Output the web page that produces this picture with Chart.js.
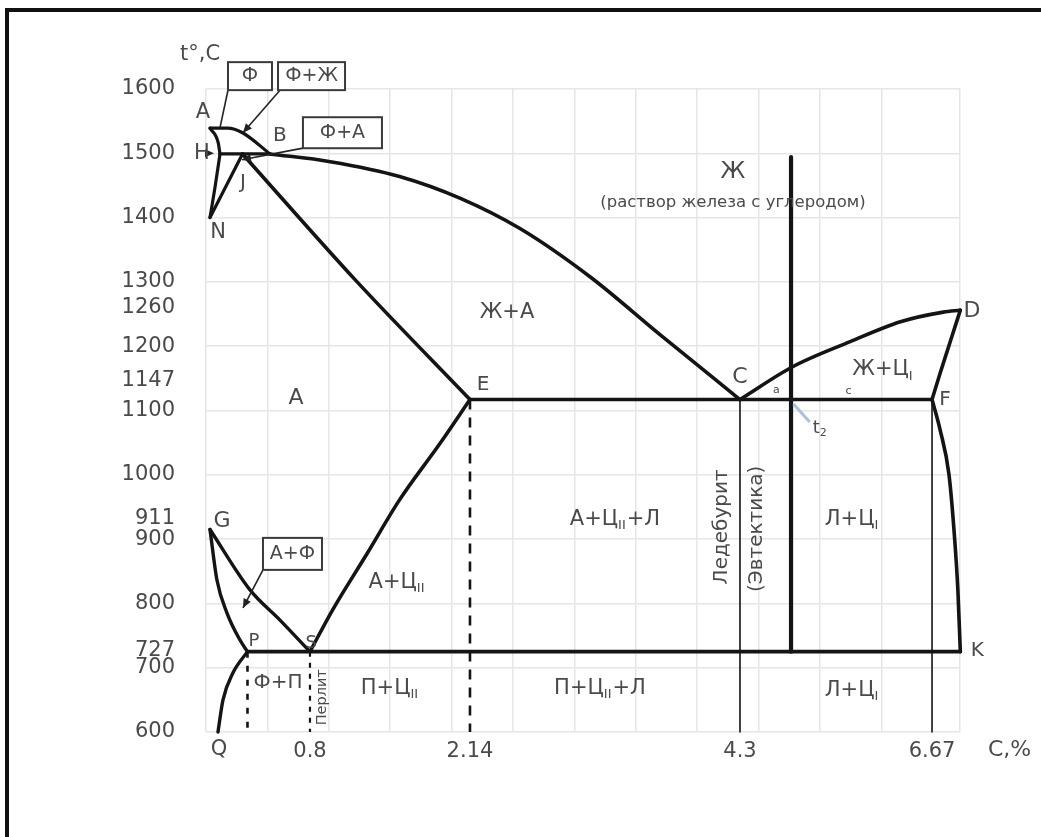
<!DOCTYPE html>
<html><head><meta charset="utf-8">
<script src="https://cdn.jsdelivr.net/npm/chart.js@4.4.1/dist/chart.umd.min.js"></script>
<style>
html,body{margin:0;padding:0;background:#fff;overflow:hidden}
#wrap{position:relative;width:1041px;height:837px;overflow:hidden}
canvas{position:absolute;left:0;top:0}
#frame{position:absolute;left:5px;top:8px;width:1100px;height:900px;border-top:4px solid #111;border-left:4px solid #111;pointer-events:none}
</style></head><body>
<div id="wrap"><canvas id="c" width="1041" height="837"></canvas><div id="frame"></div></div>
<script>
// ---------- axis ticks ----------
const X_TICKS = [0.8, 2.14, 4.3, 6.67];
const X_TICK_LABELS = ['0.8', '2.14', '4.3', '6.67'];
const Y_TICKS = [1600, 1500, 1400, 1300, 1260, 1200, 1147, 1100, 1000, 911, 900, 800, 727, 700, 600];
const Y_TICK_LABELS = ['1600', '1500', '1400', '1300', '1260', '1200', '1147', '1100', '1000', ['911', ''], '900', '800', '727', '700', '600'];

// ---------- phase boundary lines [C %, t °C] ----------
const lineAB = [[0,1539],[0.14,1539],[0.26,1532],[0.48,1499]];
const lineAH = [[0,1539],[0.065,1517],[0.08,1499]];
const lineHN = [[0.08,1499],[0.04,1447],[0,1400]];
const lineNJ = [[0,1400],[0.26,1499]];
const lineHB = [[0.08,1499],[0.48,1499]];
const lineBC = [[0.48,1499],[0.97,1487],[1.55,1464],[2.06,1430],[2.54,1383],[3.10,1308],[3.66,1218],[4.3,1117]];
const lineJE = [[0.26,1499],[1.185,1302],[2.14,1117]];
const lineECF = [[2.14,1117],[6.67,1117]];
const lineCD = [[4.3,1117],[4.95,1168],[5.66,1207],[6.28,1238],[6.81,1253],[7.02,1256]];
const lineDF = [[7.02,1256],[6.89,1205],[6.77,1158],[6.67,1117]];
const lineFK = [[6.67,1117],[6.77,1070],[6.88,1000],[6.95,900],[6.99,820],[7.02,725]];
const lineGS = [[0,915],[0.32,821],[0.56,774],[0.8,725]];
const lineGP = [[0,915],[0.056,836],[0.136,785],[0.24,743],[0.3,725]];
const linePQ = [[0.3,725],[0.184,692],[0.104,650],[0.064,600]];
const lineSE = [[0.8,725],[0.99,790],[1.28,878],[1.55,961],[1.89,1049],[2.14,1117]];
const linePSK = [[0.3,725],[7.02,725]];
const vert43 = [[4.3,1117],[4.3,600]];
const vert667 = [[6.67,1117],[6.67,600]];
const vert214 = [[2.14,1117],[2.14,600]];
const vertP = [[0.3,725],[0.3,600]];
const vertS = [[0.8,725],[0.8,600]];
const alloyLine = [[4.93,1494],[4.93,725]];

// x-axis piecewise mapping (value -> fraction of plot width)
const X_MIN = -0.032, X_MAX = 7.016;
const X_BREAKS = [[-0.032,0],[0,0.0053],[0.8,0.1379],[2.14,0.3501],[4.3,0.7082],[6.67,0.9629],[7.016,1]];

const FONT = '"DejaVu Sans", sans-serif';
const INK = '#141414';
const TXT = '#4a4a4a';
const GRID = '#e6e6e6';

class PiecewiseScale extends Chart.LinearScale {
  _frac(v) {
    const b = X_BREAKS;
    for (let i = 1; i < b.length; i++) {
      if (v <= b[i][0] || i === b.length - 1) {
        const [v0, f0] = b[i-1], [v1, f1] = b[i];
        return f0 + (v - v0) * (f1 - f0) / (v1 - v0);
      }
    }
  }
  getPixelForValue(v) { return v === null ? NaN : this.getPixelForDecimal(this._frac(v)); }
  getValueForPixel(p) {
    const f = this.getDecimalForPixel(p), b = X_BREAKS;
    for (let i = 1; i < b.length; i++) {
      if (f <= b[i][1] || i === b.length - 1) {
        const [v0, f0] = b[i-1], [v1, f1] = b[i];
        return v0 + (f - f0) * (v1 - v0) / (f1 - f0);
      }
    }
  }
}
PiecewiseScale.id = 'piecewise';
PiecewiseScale.defaults = Chart.LinearScale.defaults;
Chart.register(PiecewiseScale);

const CURVES = [
  {d: vert43, w: 1.6},
  {d: vert667, w: 1.6},
  {d: vert214, w: 2.6, dash: [10, 8]},
  {d: vertP, w: 2.6, dash: [6, 8]},
  {d: vertS, w: 2.2, dash: [5, 6]},
  {d: lineAB, w: 3.2, m: true},
  {d: lineAH, w: 3.2, m: true},
  {d: lineHN, w: 3.2, m: true},
  {d: lineNJ, w: 3.2},
  {d: lineHB, w: 3.2},
  {d: lineBC, w: 3.6, m: true},
  {d: lineJE, w: 3.6, m: true},
  {d: lineECF, w: 3.6},
  {d: lineCD, w: 3.6, m: true},
  {d: lineDF, w: 3.6, m: true},
  {d: lineFK, w: 3.6, m: true},
  {d: lineGS, w: 3.4, m: true},
  {d: lineGP, w: 3.4, m: true},
  {d: linePQ, w: 3.4, m: true},
  {d: lineSE, w: 3.6, m: true},
  {d: linePSK, w: 3.6},
  {d: alloyLine, w: 4.2}
];

// ---------- annotations (positions in data units) ----------
const LABELS = [
  {p: [-0.08, 1653], parts: [['t°,C', 0]], size: 21},
  {p: [-0.056, 1564], parts: [['A', 0]], size: 21},
  {p: [0.56, 1527], parts: [['B', 0]], size: 20},
  {p: [-0.064, 1499], parts: [['H', 0]], size: 21},
  {p: [0.264, 1454], parts: [['J', 0]], size: 20},
  {p: [0.064, 1376], parts: [['N', 0]], size: 21},
  {p: [4.244, 1471], parts: [['Ж', 0]], size: 23},
  {p: [4.244, 1423], parts: [['(раствор железа с углеродом)', 0]], size: 16.5},
  {p: [2.436, 1252], parts: [['Ж+А', 0]], size: 21},
  {p: [0.688, 1119], parts: [['А', 0]], size: 22},
  {p: [2.244, 1140], parts: [['E', 0]], size: 20},
  {p: [4.3, 1152], parts: [['C', 0]], size: 22},
  {p: [7.164, 1255], parts: [['D', 0]], size: 22},
  {p: [6.83, 1116], parts: [['F', 0]], size: 20},
  {p: [7.23, 726], parts: [['K', 0]], size: 20},
  {p: [0.096, 928], parts: [['G', 0]], size: 22},
  {p: [0.352, 741], parts: [['P', 0]], size: 18},
  {p: [0.81, 738], parts: [['S', 0]], size: 18},
  {p: [0.072, 572], parts: [['Q', 0]], size: 21},
  {p: [7.63, 572], parts: [['C,%', 0]], size: 22},
  {p: [6.065, 1163], parts: [['Ж+Ц', 0], ['I', 1]], size: 21},
  {p: [1.529, 833], parts: [['А+Ц', 0], ['II', 1]], size: 21},
  {p: [3.30, 930], parts: [['А+Ц', 0], ['II', 1], ['+Л', 0]], size: 21},
  {p: [5.683, 930], parts: [['Л+Ц', 0], ['I', 1]], size: 21},
  {p: [1.47, 668], parts: [['П+Ц', 0], ['II', 1]], size: 21},
  {p: [3.18, 668], parts: [['П+Ц', 0], ['II', 1], ['+Л', 0]], size: 21},
  {p: [5.683, 665], parts: [['Л+Ц', 0], ['I', 1]], size: 21},
  {p: [0.544, 676], parts: [['Ф+П', 0]], size: 20},
  {p: [4.156, 919], parts: [['Ледебурит', 0]], size: 20, rot: true},
  {p: [4.51, 916], parts: [['(Эвтектика)', 0]], size: 20, rot: true},
  {p: [0.9, 654], parts: [['Перлит', 0]], size: 14.5, rot: true},
  {p: [0.32, 1620], parts: [['Ф', 0]], size: 19, box: [44, 28]},
  {p: [0.813, 1620], parts: [['Ф+Ж', 0]], size: 19, box: [67, 28]},
  {p: [1.072, 1532], parts: [['Ф+А', 0]], size: 19, box: [79, 31]},
  {p: [0.66, 877], parts: [['А+Ф', 0]], size: 19, box: [59, 32]},
  {p: [5.29, 1073], parts: [['t', 0], ['2', 1]], size: 18},
  {p: [4.75, 1131], parts: [['a', 0]], size: 11},
  {p: [5.64, 1130], parts: [['c', 0]], size: 11}
];
const LEADERS = [
  {a: [0.144, 1598], b: [0.08, 1540], head: false},
  {a: [0.56, 1598], b: [0.264, 1532], head: true},
  {a: [0.744, 1508], b: [0.256, 1490], head: true},
  {a: [0.424, 852], b: [0.264, 793], head: true},
  {a: [-0.01, 1500], b: [0.032, 1500], head: true, noLine: true},
  {a: [4.96, 1110], b: [5.16, 1082], head: false, color: '#a9c1dc', w: 3}
];

const annotate = {
  id: 'annotate',
  afterDatasetsDraw(chart) {
    const {ctx, scales: {x, y}} = chart;
    const P = ([c, t]) => [x.getPixelForValue(c), y.getPixelForValue(t)];
    ctx.save();
    for (const L of LEADERS) {
      const [x0, y0] = P(L.a), [x1, y1] = P(L.b);
      ctx.strokeStyle = L.color || '#222';
      ctx.fillStyle = L.color || '#222';
      ctx.lineWidth = L.w || 1.6;
      if (!L.noLine) { ctx.beginPath(); ctx.moveTo(x0, y0); ctx.lineTo(x1, y1); ctx.stroke(); }
      if (L.head) {
        const ang = Math.atan2(y1 - y0, x1 - x0), len = 9, wd = 4;
        ctx.beginPath();
        ctx.moveTo(x1, y1);
        ctx.lineTo(x1 - len * Math.cos(ang) + wd * Math.sin(ang), y1 - len * Math.sin(ang) - wd * Math.cos(ang));
        ctx.lineTo(x1 - len * Math.cos(ang) - wd * Math.sin(ang), y1 - len * Math.sin(ang) + wd * Math.cos(ang));
        ctx.closePath(); ctx.fill();
      }
    }
    ctx.textBaseline = 'middle';
    ctx.textAlign = 'left';
    for (const L of LABELS) {
      const [cx, cy] = P(L.p);
      const s = L.size, ss = Math.round(s * 0.6);
      let total = 0;
      const widths = L.parts.map(([t, sub]) => {
        ctx.font = (sub ? ss : s) + 'px ' + FONT;
        const w = ctx.measureText(t).width + (sub ? 1 : 0);
        total += w; return w;
      });
      ctx.save();
      ctx.translate(cx, cy);
      if (L.rot) ctx.rotate(-Math.PI / 2);
      if (L.box) {
        ctx.strokeStyle = '#3a3a3a'; ctx.lineWidth = 2;
        ctx.fillStyle = '#fff';
        ctx.fillRect(-L.box[0] / 2, -L.box[1] / 2, L.box[0], L.box[1]);
        ctx.strokeRect(-L.box[0] / 2, -L.box[1] / 2, L.box[0], L.box[1]);
      }
      ctx.fillStyle = TXT;
      let xx = -total / 2;
      L.parts.forEach(([t, sub], i) => {
        ctx.font = (sub ? ss : s) + 'px ' + FONT;
        ctx.fillText(t, xx, sub ? s * 0.3 : 0);
        xx += widths[i];
      });
      ctx.restore();
    }
    ctx.restore();
  }
};

new Chart(document.getElementById('c'), {
  type: 'scatter',
  data: {
    datasets: CURVES.map(c => ({
      data: c.d.map(([x, y]) => ({x, y})),
      showLine: true, fill: false, pointRadius: 0, pointHoverRadius: 0,
      borderColor: INK, borderWidth: c.w, borderDash: c.dash || [],
      cubicInterpolationMode: c.m ? 'monotone' : 'default', tension: 0,
      borderCapStyle: c.dash ? 'butt' : 'round', borderJoinStyle: 'round', clip: false
    }))
  },
  options: {
    responsive: false, animation: false, devicePixelRatio: 1,
    layout: {padding: {left: 0, top: 89, right: 81, bottom: 65}},
    plugins: {legend: {display: false}, tooltip: {enabled: false}, title: {display: false}},
    events: [],
    scales: {
      x: {
        type: 'piecewise', position: 'bottom', min: X_MIN, max: X_MAX,
        grid: {display: false, drawTicks: false}, border: {display: false},
        afterBuildTicks: s => { s.ticks = X_TICKS.map(v => ({value: v})); },
        afterFit: s => { s.height = 40; },
        ticks: {autoSkip: false, maxRotation: 0, padding: 7, color: TXT, font: {family: FONT, size: 21},
          callback: (v, i) => X_TICK_LABELS[i]}
      },
      y: {
        type: 'linear', position: 'left', min: 600, max: 1600,
        grid: {display: false, drawTicks: false}, border: {display: false},
        afterBuildTicks: s => { s.ticks = Y_TICKS.map(v => ({value: v})); },
        afterFit: s => { s.width = 206; },
        ticks: {autoSkip: false, padding: 31, color: TXT, font: {family: FONT, size: 21, lineHeight: 1.3},
          callback: (v, i) => Y_TICK_LABELS[i]}
      },
      gx: {
        type: 'linear', position: 'top', min: 0, max: 12.28,
        ticks: {display: false, stepSize: 1}, grid: {color: GRID, lineWidth: 1.5, drawTicks: false},
        border: {display: false}, afterFit: s => { s.height = 0; }
      },
      gy: {
        type: 'linear', position: 'right', min: 600, max: 1600,
        ticks: {display: false, stepSize: 100}, grid: {color: GRID, lineWidth: 1.5, drawTicks: false},
        border: {display: false}, afterFit: s => { s.width = 0; }
      }
    }
  },
  plugins: [annotate]
});
</script>
</body></html>
